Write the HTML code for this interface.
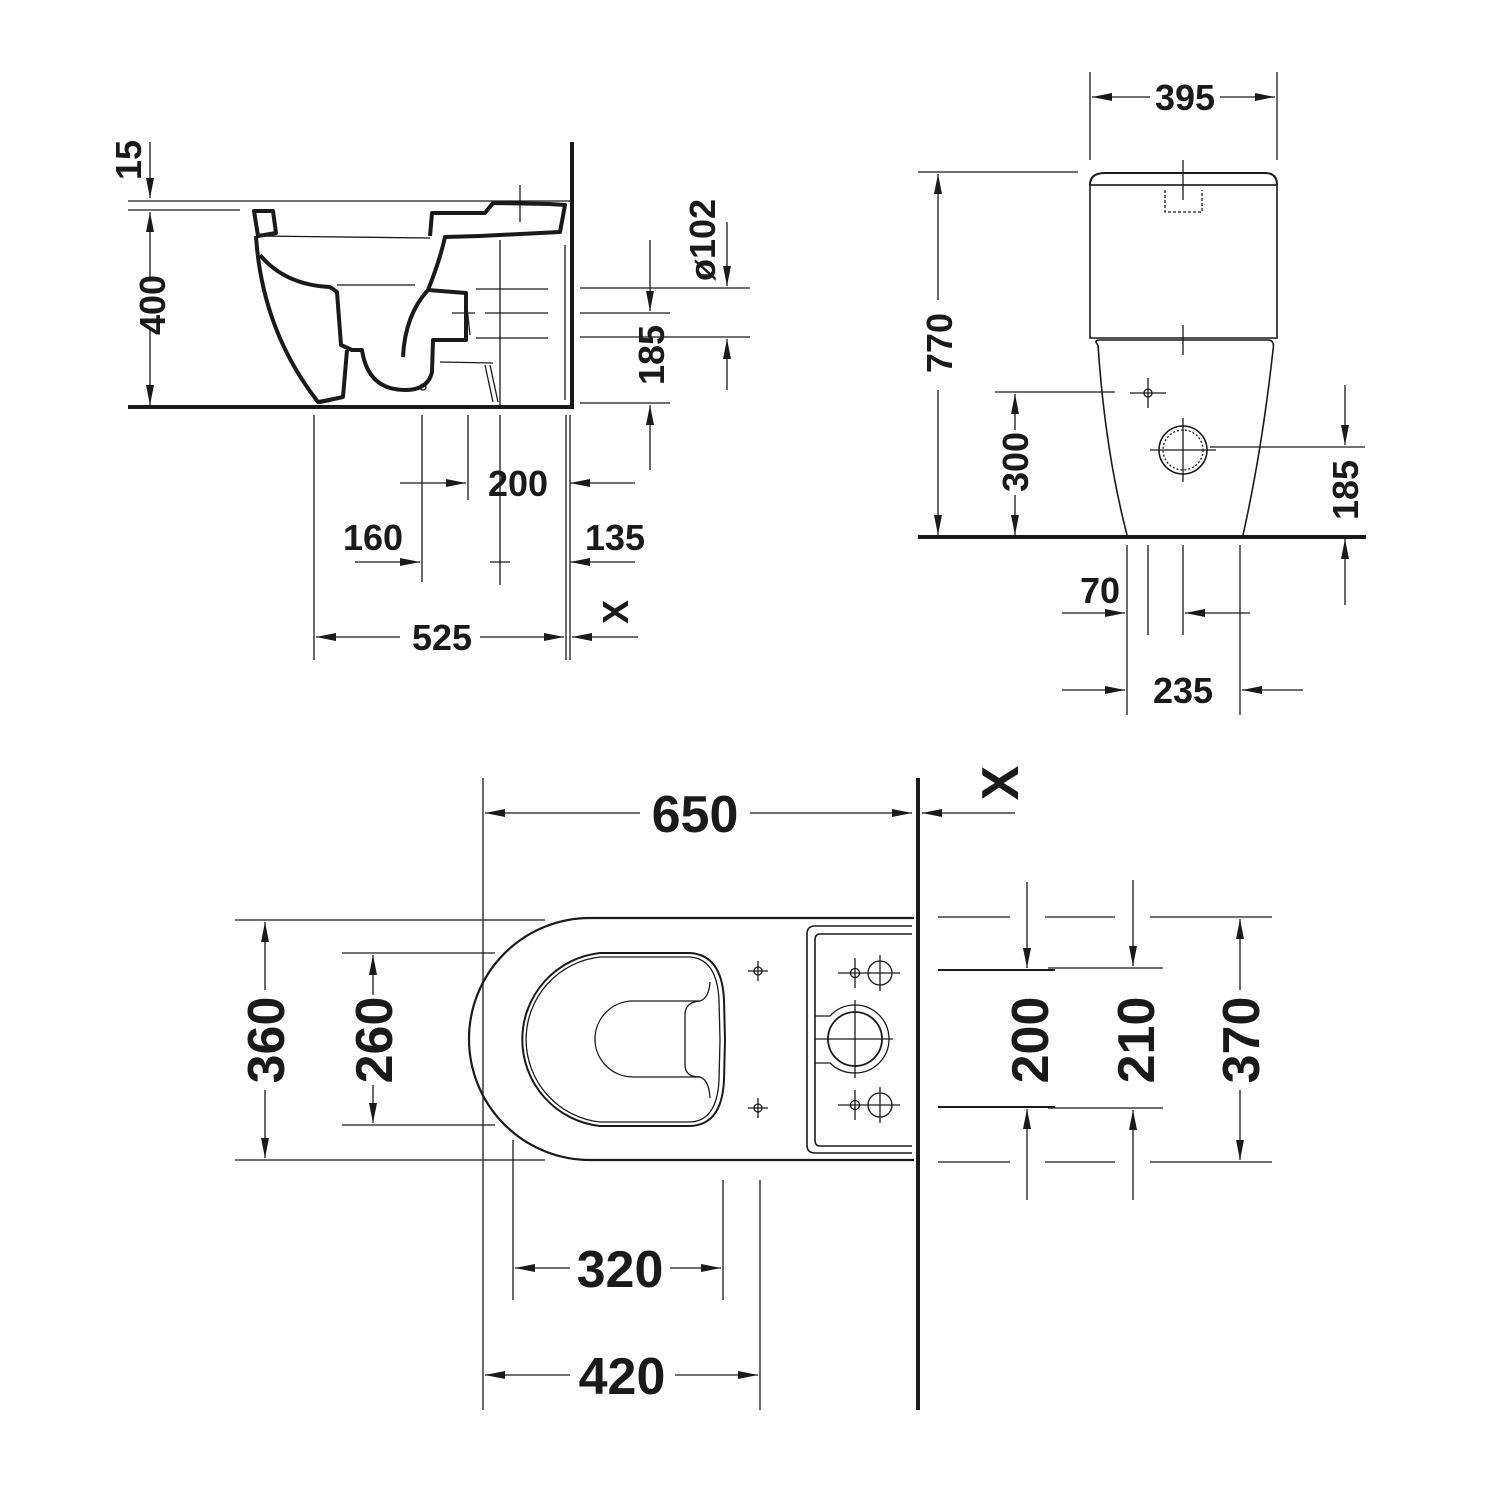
<!DOCTYPE html>
<html><head><meta charset="utf-8"><style>
html,body{margin:0;padding:0;background:#fff}
svg{display:block}
text{font-family:"Liberation Sans Narrow","Liberation Sans",sans-serif;font-weight:bold;fill:#1a1a1a}
</style></head><body>
<svg width="1500" height="1500" viewBox="0 0 1500 1500" xmlns="http://www.w3.org/2000/svg">
<defs>
<marker id="a" viewBox="0 0 20 8" refX="20" refY="4" markerWidth="20" markerHeight="8" markerUnits="userSpaceOnUse" orient="auto"><path d="M0,0 L20,4 L0,8 Z" fill="#1a1a1a"/></marker>
</defs>
<g stroke="#1a1a1a" fill="none" stroke-width="1.3">
<!-- ===== SIDE VIEW ===== -->
<line x1="128" y1="407" x2="574" y2="407" stroke-width="4"/>
<line x1="572" y1="142" x2="572" y2="409" stroke-width="4"/>
<line x1="128" y1="201" x2="570" y2="201"/>
<line x1="128" y1="210" x2="240" y2="210"/>
<line x1="150" y1="142" x2="150" y2="198" marker-end="url(#a)"/>
<line x1="150" y1="280" x2="150" y2="212" marker-end="url(#a)"/>
<line x1="150" y1="330" x2="150" y2="405" marker-end="url(#a)"/>
<g stroke-width="4" stroke-linejoin="round">
<path d="M254,211 L273,211 L276,233 L258,236 Z"/>
<path d="M256,236 Q262,330 318,402 L330,400"/>
<path d="M260,255 Q285,285 330,287 L337,292 L341,345 L352,350 L362,350 Q368,390 405,390 Q428,390 432,372 L433,340 L466,340 L466,293 L428,290 Q440,260 445,237 L480,236 L560,232 L565,205 L550,204 L493,203 L485,213 L432,213 L430,236"/>
<path d="M347,350 L343,397 L320,402"/>
<path d="M403,357 Q405,315 428,290"/>
</g>
<line x1="258" y1="236" x2="430" y2="238"/>
<line x1="337" y1="285" x2="415" y2="285"/>
<line x1="500" y1="240" x2="500" y2="405"/>
<line x1="466" y1="298" x2="470" y2="335"/>
<line x1="440" y1="362" x2="493" y2="363"/>
<line x1="485" y1="365" x2="493" y2="402"/>
<line x1="490" y1="365" x2="498" y2="402"/>
<line x1="520" y1="185" x2="520" y2="222"/>
<line x1="565" y1="245" x2="565" y2="400"/>
<line x1="476" y1="289" x2="548" y2="289"/>
<line x1="452" y1="313" x2="475" y2="313"/>
<line x1="485" y1="313" x2="548" y2="313"/>
<line x1="476" y1="338" x2="548" y2="338"/>
<circle cx="423" cy="387" r="3"/>
<line x1="580" y1="288" x2="750" y2="288"/>
<line x1="580" y1="313" x2="670" y2="313"/>
<line x1="580" y1="337" x2="750" y2="337"/>
<line x1="580" y1="403" x2="670" y2="403"/>
<line x1="727" y1="222" x2="727" y2="286" marker-end="url(#a)"/>
<line x1="727" y1="390" x2="727" y2="339" marker-end="url(#a)"/>
<line x1="650" y1="240" x2="650" y2="311" marker-end="url(#a)"/>
<line x1="650" y1="470" x2="650" y2="405" marker-end="url(#a)"/>
<line x1="314" y1="415" x2="314" y2="660"/>
<line x1="422" y1="415" x2="422" y2="582"/>
<line x1="468" y1="415" x2="468" y2="500"/>
<line x1="500" y1="415" x2="500" y2="585"/>
<line x1="566" y1="415" x2="566" y2="660"/>
<line x1="570" y1="415" x2="570" y2="660"/>
<line x1="490" y1="562" x2="510" y2="562"/>
<line x1="400" y1="483" x2="466" y2="483" marker-end="url(#a)"/>
<line x1="635" y1="483" x2="570" y2="483" marker-end="url(#a)"/>
<line x1="355" y1="562" x2="420" y2="562" marker-end="url(#a)"/>
<line x1="635" y1="562" x2="570" y2="562" marker-end="url(#a)"/>
<line x1="400" y1="637" x2="316" y2="637" marker-end="url(#a)"/>
<line x1="480" y1="637" x2="564" y2="637" marker-end="url(#a)"/>
<line x1="638" y1="637" x2="572" y2="637" marker-end="url(#a)"/>

<!-- ===== FRONT VIEW ===== -->
<line x1="918" y1="537" x2="1366" y2="537" stroke-width="4"/>
<line x1="1090" y1="72" x2="1090" y2="160"/>
<line x1="1277" y1="72" x2="1277" y2="160"/>
<line x1="1150" y1="97" x2="1092" y2="97" marker-end="url(#a)"/>
<line x1="1220" y1="97" x2="1275" y2="97" marker-end="url(#a)"/>
<line x1="918" y1="172" x2="1078" y2="172"/>
<line x1="938" y1="300" x2="938" y2="174" marker-end="url(#a)"/>
<line x1="938" y1="390" x2="938" y2="535" marker-end="url(#a)"/>
<line x1="995" y1="392" x2="1115" y2="392"/>
<line x1="1015" y1="430" x2="1015" y2="394" marker-end="url(#a)"/>
<line x1="1015" y1="495" x2="1015" y2="535" marker-end="url(#a)"/>
<line x1="1210" y1="447" x2="1365" y2="447"/>
<line x1="1345" y1="385" x2="1345" y2="445" marker-end="url(#a)"/>
<line x1="1345" y1="605" x2="1345" y2="539" marker-end="url(#a)"/>
<path d="M1090,185 Q1090,173 1105,173 L1265,173 Q1277,173 1277,185" stroke-width="2"/>
<path d="M1090,185 L1090,338 L1277,338 L1277,185 Z" stroke-width="1.6"/>
<line x1="1090" y1="185" x2="1277" y2="185"/>
<path d="M1165,190 L1165,212 L1202,212 L1202,190" stroke-dasharray="3,2"/>
<line x1="1183" y1="160" x2="1183" y2="200"/>
<line x1="1183" y1="325" x2="1183" y2="355"/>
<path d="M1098,345 Q1093,340 1100,340 L1268,340 Q1275,340 1273,350 Q1262,450 1243,535" stroke-width="1.6"/>
<path d="M1098,345 Q1105,450 1127,535" stroke-width="1.6"/>
<circle cx="1183" cy="450" r="24" stroke-width="1.6"/>
<circle cx="1183" cy="450" r="20" stroke-dasharray="2,2"/>
<line x1="1150" y1="450" x2="1216" y2="450"/>
<line x1="1183" y1="418" x2="1183" y2="482"/>
<circle cx="1148" cy="393" r="4"/>
<line x1="1130" y1="393" x2="1166" y2="393"/>
<line x1="1148" y1="378" x2="1148" y2="408"/>
<line x1="1127" y1="545" x2="1127" y2="715"/>
<line x1="1148" y1="545" x2="1148" y2="635"/>
<line x1="1183" y1="545" x2="1183" y2="635"/>
<line x1="1240" y1="545" x2="1240" y2="715"/>
<line x1="1062" y1="613" x2="1125" y2="613" marker-end="url(#a)"/>
<line x1="1250" y1="613" x2="1185" y2="613" marker-end="url(#a)"/>
<line x1="1062" y1="690" x2="1125" y2="690" marker-end="url(#a)"/>
<line x1="1303" y1="690" x2="1242" y2="690" marker-end="url(#a)"/>

<!-- ===== PLAN VIEW ===== -->
<line x1="918" y1="778" x2="918" y2="1410" stroke-width="4"/>
<line x1="483" y1="778" x2="483" y2="1410"/>
<line x1="640" y1="813" x2="485" y2="813" marker-end="url(#a)"/>
<line x1="750" y1="813" x2="912" y2="813" marker-end="url(#a)"/>
<line x1="1015" y1="813" x2="922" y2="813" marker-end="url(#a)"/>
<path d="M914,918 L590,918 A121,121 0 0 0 590,1160 L914,1160" stroke-width="2.2"/>
<path d="M807,934 Q807,926 815,926 L912,926 M807,934 L807,1145 Q807,1153 815,1153 L912,1153" stroke-width="1.6"/>
<path d="M912,934 L820,934 Q815,934 815,940 L815,1140 Q815,1146 820,1146 L912,1146" stroke-width="1.6"/>
<path d="M600,953 L690,953 Q722,955 724,1000 L725,1040 L724,1080 Q722,1125 690,1126 L600,1126 A87,87 0 0 1 600,953 Z" stroke-width="2"/>
<path d="M600,957 L690,957 Q717,959 719,1000 L720,1040 L719,1080 Q717,1121 690,1122 L600,1122 A83,83 0 0 1 600,957 Z"/>
<path d="M700,1001 L633,1001 A38,38 0 0 0 633,1077 L700,1077"/>
<path d="M710,982 Q709,998 700,1001 Q685,1002 685,1015 L685,1065 Q685,1077 700,1077 Q709,1080 710,1098"/>
<g>
<circle cx="758" cy="971" r="4"/><line x1="748" y1="971" x2="768" y2="971"/><line x1="758" y1="961" x2="758" y2="981"/>
<circle cx="758" cy="1108" r="4"/><line x1="748" y1="1108" x2="768" y2="1108"/><line x1="758" y1="1098" x2="758" y2="1118"/>
<circle cx="855" cy="973" r="4.5"/><circle cx="880" cy="973" r="12"/>
<line x1="838" y1="973" x2="900" y2="973"/><line x1="855" y1="958" x2="855" y2="988"/><line x1="880" y1="955" x2="880" y2="991"/>
<circle cx="855" cy="1105" r="4.5"/><circle cx="880" cy="1105" r="12"/>
<line x1="838" y1="1105" x2="900" y2="1105"/><line x1="855" y1="1090" x2="855" y2="1120"/><line x1="880" y1="1087" x2="880" y2="1123"/>
<circle cx="855" cy="1039" r="27" stroke-width="1.8"/>
<path d="M815,1016 L830,1016 Q840,1005 855,1005 A34,34 0 1 1 855,1073 Q840,1073 830,1063 L815,1063"/>
<line x1="815" y1="1039" x2="893" y2="1039"/><line x1="855" y1="1000" x2="855" y2="1078"/>
</g>
<line x1="235" y1="920" x2="545" y2="920"/>
<line x1="235" y1="1160" x2="545" y2="1160"/>
<line x1="342" y1="953" x2="495" y2="953"/>
<line x1="342" y1="1125" x2="495" y2="1125"/>
<line x1="265" y1="990" x2="265" y2="922" marker-end="url(#a)"/>
<line x1="265" y1="1090" x2="265" y2="1158" marker-end="url(#a)"/>
<line x1="373" y1="995" x2="373" y2="955" marker-end="url(#a)"/>
<line x1="373" y1="1085" x2="373" y2="1123" marker-end="url(#a)"/>
<line x1="938" y1="917" x2="1010" y2="917"/><line x1="1045" y1="917" x2="1115" y2="917"/><line x1="1150" y1="917" x2="1272" y2="917"/>
<line x1="938" y1="1162" x2="1010" y2="1162"/><line x1="1045" y1="1162" x2="1115" y2="1162"/><line x1="1150" y1="1162" x2="1272" y2="1162"/>
<line x1="938" y1="970" x2="1055" y2="970" stroke-width="2"/>
<line x1="938" y1="1107" x2="1055" y2="1107" stroke-width="2"/>
<line x1="1048" y1="968" x2="1163" y2="968"/>
<line x1="1048" y1="1108" x2="1163" y2="1108"/>
<line x1="1027" y1="882" x2="1027" y2="968" marker-end="url(#a)"/>
<line x1="1027" y1="1200" x2="1027" y2="1109" marker-end="url(#a)"/>
<line x1="1133" y1="880" x2="1133" y2="966" marker-end="url(#a)"/>
<line x1="1133" y1="1200" x2="1133" y2="1110" marker-end="url(#a)"/>
<line x1="1240" y1="990" x2="1240" y2="919" marker-end="url(#a)"/>
<line x1="1240" y1="1090" x2="1240" y2="1160" marker-end="url(#a)"/>
<line x1="513" y1="1140" x2="513" y2="1300"/>
<line x1="723" y1="1180" x2="723" y2="1300"/>
<line x1="760" y1="1180" x2="760" y2="1410"/>
<line x1="570" y1="1268" x2="515" y2="1268" marker-end="url(#a)"/>
<line x1="670" y1="1268" x2="721" y2="1268" marker-end="url(#a)"/>
<line x1="570" y1="1375" x2="485" y2="1375" marker-end="url(#a)"/>
<line x1="675" y1="1375" x2="758" y2="1375" marker-end="url(#a)"/>
</g>

<g font-size="36" text-anchor="middle">
<text transform="translate(141,160) rotate(-90)">15</text>
<text transform="translate(165,305) rotate(-90)">400</text>
<text transform="translate(715,240) rotate(-90)">ø102</text>
<text transform="translate(664,355) rotate(-90)">185</text>
<text x="518" y="496">200</text>
<text x="373" y="550">160</text>
<text x="615" y="550">135</text>
<text x="442" y="650">525</text>
<text transform="translate(628,612) rotate(-90)">X</text>
<text x="1185" y="110">395</text>
<text transform="translate(952,343) rotate(-90)">770</text>
<text transform="translate(1028,462) rotate(-90)">300</text>
<text transform="translate(1358,490) rotate(-90)">185</text>
<text x="1100" y="603">70</text>
<text x="1183" y="703">235</text>
</g>
<g font-size="52" text-anchor="middle">
<text x="695" y="832">650</text>
<text transform="translate(1018,783) rotate(-90)">X</text>
<text transform="translate(284,1040) rotate(-90)">360</text>
<text transform="translate(392,1040) rotate(-90)">260</text>
<text transform="translate(1048,1040) rotate(-90)">200</text>
<text transform="translate(1154,1040) rotate(-90)">210</text>
<text transform="translate(1259,1040) rotate(-90)">370</text>
<text x="620" y="1287">320</text>
<text x="622" y="1394">420</text>
</g>
</svg>
</body></html>
